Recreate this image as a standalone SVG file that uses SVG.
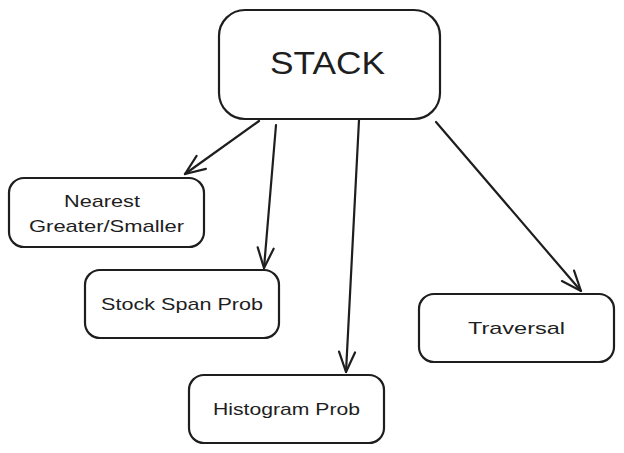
<svg xmlns="http://www.w3.org/2000/svg" width="624" height="453" viewBox="0 0 624 453">
<style>
.box{fill:#ffffff;stroke:#1e1e1e;stroke-width:2.2}
.lbl{font-family:"Liberation Sans","DejaVu Sans",sans-serif;fill:#1e1e1e;font-size:17px;text-anchor:start}
.big{font-size:31px}
.con{fill:none;stroke:#1e1e1e;stroke-width:2.2;stroke-linecap:round}
</style>
<defs>
<marker id="ah" viewBox="-22 -10 24 20" refX="0" refY="0" markerWidth="24" markerHeight="20" markerUnits="userSpaceOnUse" orient="auto">
<path d="M-20,-8 L0,0 L-20,8" fill="none" stroke="#1e1e1e" stroke-width="2.2" stroke-linecap="round" stroke-linejoin="round"/>
</marker>
</defs>
<rect width="624" height="453" fill="#ffffff"/>
<g id="connectors">
<path class="con" d="M259,121 L185,174" marker-end="url(#ah)"/>
<path class="con" d="M276,125 L264,268" marker-end="url(#ah)"/>
<path class="con" d="M359,120 L346,372" marker-end="url(#ah)"/>
<path class="con" d="M436,122 L581,291" marker-end="url(#ah)"/>
</g>
<g id="stack">
<rect class="box" x="219" y="10" width="221" height="109" rx="26"/>
<text class="lbl big" x="270" y="74" textLength="115" lengthAdjust="spacingAndGlyphs">STACK</text>
</g>
<g id="nearest">
<rect class="box" x="9" y="178" width="195" height="69" rx="15"/>
<text class="lbl" x="64" y="207" textLength="76" lengthAdjust="spacingAndGlyphs">Nearest</text>
<text class="lbl" x="29" y="232" textLength="155" lengthAdjust="spacingAndGlyphs">Greater/Smaller</text>
</g>
<g id="stockspan">
<rect class="box" x="85" y="270" width="194" height="68" rx="15"/>
<text class="lbl" x="101" y="310" textLength="162" lengthAdjust="spacingAndGlyphs">Stock Span Prob</text>
</g>
<g id="histogram">
<rect class="box" x="189" y="375" width="195" height="68" rx="15"/>
<text class="lbl" x="213" y="415" textLength="147" lengthAdjust="spacingAndGlyphs">Histogram Prob</text>
</g>
<g id="traversal">
<rect class="box" x="419" y="294" width="195" height="68" rx="15"/>
<text class="lbl" x="468" y="334" textLength="97" lengthAdjust="spacingAndGlyphs">Traversal</text>
</g>
</svg>
